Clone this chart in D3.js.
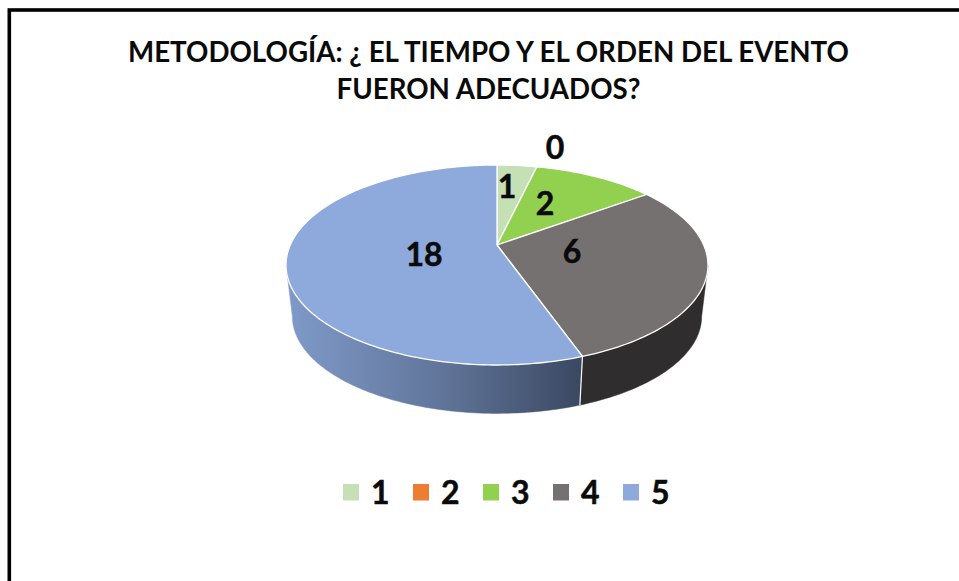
<!DOCTYPE html>
<html><head><meta charset="utf-8">
<script src="https://cdn.jsdelivr.net/npm/d3@7"></script>
<style>html,body{margin:0;padding:0;background:#fff}svg{display:block}text{font-family:Lato,Carlito,sans-serif;font-weight:700;fill:#0a0a0a}</style>
</head><body><svg id="c" width="959" height="581"></svg>
<script>
const titleLines = ["METODOLOGÍA: ¿ EL TIEMPO Y EL ORDEN DEL EVENTO", "FUERON ADECUADOS?"];
const categories = ["1", "2", "3", "4", "5"];
const printedLabels = ["1", "0", "2", "6", "18"];
// Slice shares as drawn in the picture (the printed labels differ from the drawn angles)
const drawnShares = [1, 0, 3.05, 7.98, 14.97];
const colors = ["#c5e0b4", "#ed7d31", "#92d050", "#767171", "#8ea9db"];
const sideColors = ["#a0b58f", "#bd6427", "#75a640", "#2f2d2d", "#8ea9db"];

const W = 959, H = 581;
const svg = d3.select("#c");
svg.append("rect").attr("x", 9.3).attr("y", 10).attr("width", W + 20).attr("height", H + 20)
  .attr("fill", "#fff").attr("stroke", "#000").attr("stroke-width", 3.6);

svg.selectAll("text.title").data(titleLines).join("text").attr("class", "title")
  .attr("x", 488.5).attr("y", (d, i) => 62 + i * 36.5).attr("text-anchor", "middle")
  .attr("font-size", 27.7).text(d => d);

// Perspective projection of a flat disc
const persp = 0.2, cx = 497, topY = 245, rx = 206.7, ry = 96, depth = 52, shrink = 0.97;
const xS = d3.scaleLinear().domain([-1, 1]).range([-rx, rx]);
const yS = d3.scaleLinear().domain([-1, 1]).range([-ry, ry]);
function proj(a, r, bottom) {
  const X = r * Math.sin(a), Y = -r * Math.cos(a), w = 1 - persp * Y;
  const k = bottom ? shrink : 1;
  return [cx + k * xS(X / w), topY + (bottom ? depth : 0) + k * yS(Y / w)];
}
const arcs = d3.pie().sort(null).value(d => d)(drawnShares);
const line = d3.line();
function samples(a0, a1) {
  const n = Math.max(2, Math.ceil((a1 - a0) / 0.02));
  return d3.range(n + 1).map(i => a0 + (a1 - a0) * i / n);
}
const defs = svg.append("defs");
const grad = defs.append("linearGradient").attr("id", "blueSide").attr("gradientUnits", "userSpaceOnUse")
  .attr("x1", 288).attr("x2", 582).attr("y1", 0).attr("y2", 0);
grad.append("stop").attr("offset", 0).attr("stop-color", "#7f9ac9");
grad.append("stop").attr("offset", 0.55).attr("stop-color", "#5f7397");
grad.append("stop").attr("offset", 1).attr("stop-color", "#3a4861");

// side walls: only the part of each slice facing the viewer
const frontA = Math.acos(-persp), frontB = 2 * Math.PI - frontA;
const wallOf = d => [Math.max(d.startAngle, frontA), Math.min(d.endAngle, frontB)];
svg.selectAll("path.side").data(arcs.filter(d => { const [a, b] = wallOf(d); return b > a; })).join("path").attr("class", "side")
  .attr("d", d => {
    const [a0, a1] = wallOf(d);
    const s = samples(a0, a1);
    return line([...s.map(a => proj(a, 1, false)), ...s.slice().reverse().map(a => proj(a, 1, true))]) + "Z";
  })
  .attr("fill", d => d.index === 4 ? "url(#blueSide)" : sideColors[d.index])
  .attr("stroke", d => d.index === 4 ? "url(#blueSide)" : sideColors[d.index]).attr("stroke-width", 0.5);
// white seam on the front wall between slices
svg.selectAll("path.seam").data(arcs.filter(d => d.index === 3)).join("path").attr("class", "seam")
  .attr("d", d => line([proj(d.endAngle, 1, false), proj(d.endAngle, 1, true)]))
  .attr("fill", "none").attr("stroke", "#fff").attr("stroke-width", 1.2);
// top face
svg.selectAll("path.top").data(arcs.filter(d => d.endAngle > d.startAngle)).join("path").attr("class", "top")
  .attr("d", d => line([[cx, topY], ...samples(d.startAngle, d.endAngle).map(a => proj(a, 1, false))]) + "Z")
  .attr("fill", d => colors[d.index]).attr("stroke", "#fff").attr("stroke-width", 1.3).attr("stroke-linejoin", "round");

// data labels, offset from the apex of the pie
const labelOffsets = [[10, -60], [58, -99], [48, -43], [75, 5], [-73, 8]];
svg.selectAll("text.lab").data(printedLabels).join("text").attr("class", "lab")
  .attr("x", (d, i) => cx + labelOffsets[i][0]).attr("y", (d, i) => topY + labelOffsets[i][1])
  .attr("text-anchor", "middle").attr("dominant-baseline", "central").attr("font-size", 32)
  .attr("stroke", "#0a0a0a").attr("stroke-width", 0.5).text(d => d);

// legend
const lx = d3.scaleLinear().domain([0, 4]).range([343, 623]);
const lg = svg.selectAll("g.leg").data(categories).join("g").attr("class", "leg")
  .attr("transform", (d, i) => `translate(${lx(i)},484)`);
lg.append("rect").attr("width", 16).attr("height", 16.5).attr("fill", (d, i) => colors[i]);
lg.append("text").attr("x", 28).attr("y", 7.5).attr("dominant-baseline", "central").attr("font-size", 32)
  .attr("stroke", "#0a0a0a").attr("stroke-width", 0.5).text(d => d);
</script></body></html>
